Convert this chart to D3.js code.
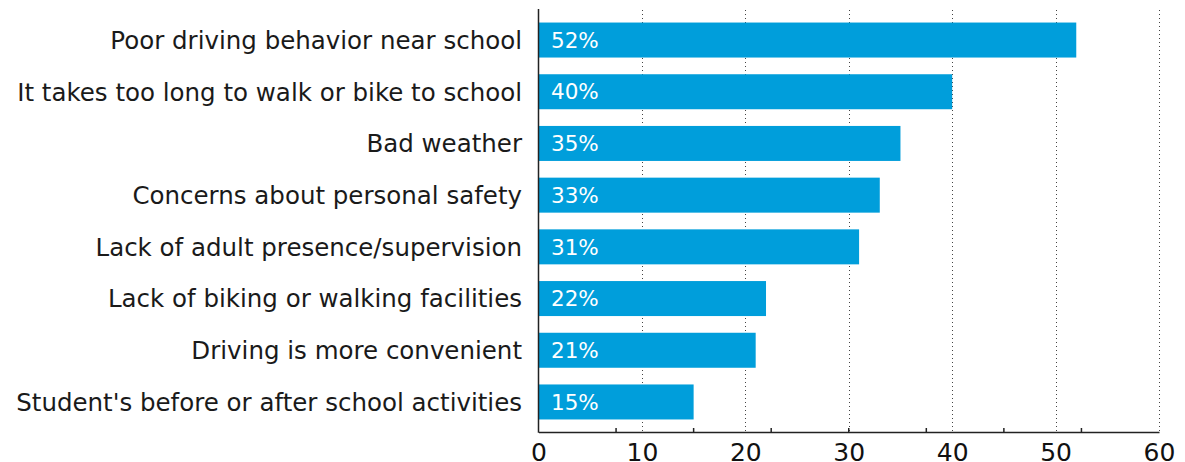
<!DOCTYPE html>
<html>
<head>
<meta charset="utf-8">
<script src="https://cdn.jsdelivr.net/npm/d3@7"></script>
<style>
  html, body { margin: 0; padding: 0; background: #fff; }
  svg { display: block; }
  text { font-family: "DejaVu Sans", sans-serif; }
</style>
</head>
<body>
<svg id="chart" width="1185" height="462"></svg>
<script>
const categories = [
  "Poor driving behavior near school",
  "It takes too long to walk or bike to school",
  "Bad weather",
  "Concerns about personal safety",
  "Lack of adult presence/supervision",
  "Lack of biking or walking facilities",
  "Driving is more convenient",
  "Student's before or after school activities"
];
const values = [52, 40, 35, 33, 31, 22, 21, 15];
const xTicks = [0, 10, 20, 30, 40, 50, 60];
const minorTicks = [7.5, 15, 22.5, 30, 37.5, 45, 52.5];

const svg = d3.select("#chart");
const plotLeft = 538.5, plotRight = 1159, plotTop = 10, plotBottom = 432;

const x = d3.scaleLinear().domain([0, 60]).range([plotLeft, plotRight]);
const y = d3.scaleBand().domain(categories).range([plotTop, plotBottom])
  .paddingInner(0.323).paddingOuter(0.2425);

// gridlines
svg.append("g").selectAll("line").data(xTicks.slice(1)).join("line")
  .attr("x1", d => Math.round(x(d)) + 0.5).attr("x2", d => Math.round(x(d)) + 0.5)
  .attr("y1", plotTop).attr("y2", plotBottom)
  .attr("stroke", "#444").attr("stroke-width", 1)
  .attr("stroke-dasharray", "1,3");

// bars
svg.append("g").selectAll("rect").data(values).join("rect")
  .attr("x", x(0))
  .attr("y", (d, i) => y(categories[i]))
  .attr("width", d => x(d) - x(0))
  .attr("height", y.bandwidth())
  .attr("fill", "#009EDB");

// bar labels
svg.append("g").selectAll("text").data(values).join("text")
  .attr("x", x(0) + 12.5)
  .attr("y", (d, i) => y(categories[i]) + y.bandwidth() / 2)
  .attr("dy", "0.36em")
  .attr("fill", "#fff")
  .attr("font-size", 21.5)
  .text(d => d + "%");

// category labels
svg.append("g").selectAll("text").data(categories).join("text")
  .attr("x", 522)
  .attr("y", d => y(d) + y.bandwidth() / 2)
  .attr("dy", "0.36em")
  .attr("text-anchor", "end")
  .attr("fill", "#1a1a1a")
  .attr("font-size", 24.5)
  .text(d => d);

// x axis
const xAxis = d3.axisBottom(x).tickValues(xTicks).tickSize(0).tickPadding(10);
const gx = svg.append("g").attr("transform", `translate(0,${plotBottom})`).call(xAxis);
gx.select(".domain").attr("stroke", "#222").attr("stroke-width", 1.5);
gx.selectAll("text").attr("font-size", 25).attr("fill", "#111")
  .style("font-family", "'DejaVu Sans', sans-serif").attr("dy", "0.75em");

// minor upward ticks
svg.append("g").selectAll("line").data(minorTicks).join("line")
  .attr("x1", d => x(d)).attr("x2", d => x(d))
  .attr("y1", plotBottom).attr("y2", plotBottom - 4)
  .attr("stroke", "#222").attr("stroke-width", 1.5);

// y axis line
svg.append("line")
  .attr("x1", plotLeft).attr("x2", plotLeft).attr("y1", 9).attr("y2", plotBottom + 0.75)
  .attr("stroke", "#222").attr("stroke-width", 1.5);
</script>
</body>
</html>
